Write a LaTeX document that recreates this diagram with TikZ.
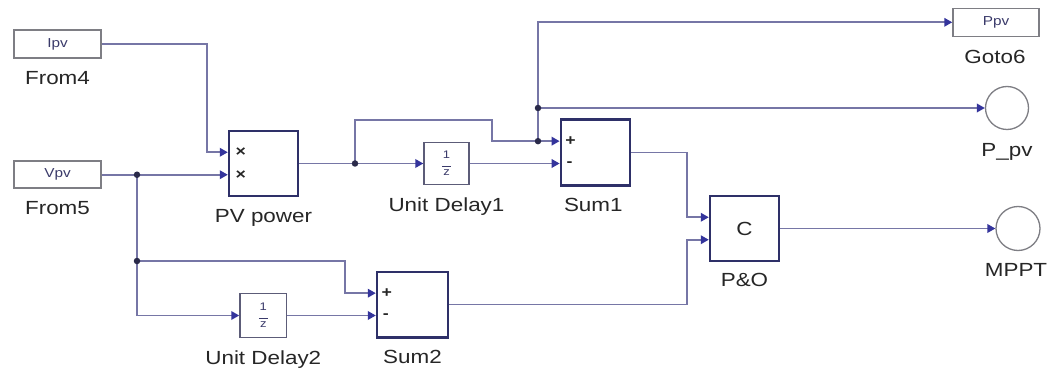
\documentclass[tikz,border=0pt]{standalone}
\usepackage{fontspec}
\setmainfont{Liberation Sans}[FakeStretch=1.18]
\usetikzlibrary{arrows.meta,calc}
\definecolor{wirec}{HTML}{7676A6}
\definecolor{tipc}{HTML}{34349C}
\definecolor{blkc}{HTML}{2E3068}
\definecolor{udc}{HTML}{5C5C78}
\definecolor{tagc}{HTML}{7E7E84}
\definecolor{smallc}{HTML}{3A3A6A}
\definecolor{txtc}{HTML}{262626}
\definecolor{dotc}{HTML}{2A2A4A}
\begin{document}
\begin{tikzpicture}[x=1pt,y=-1pt,
  wire/.style={draw=wirec, line width=1.8pt},
  arr/.style={wire, -{Triangle[length=8pt,width=8.5pt,color=tipc]}},
  blk/.style={draw=blkc, line width=2.4pt, fill=white, inner sep=0pt},
  udel/.style={draw=udc, line width=1.4pt, fill=white, inner sep=0pt},
  tag/.style={draw=tagc, line width=1.5pt, fill=white, inner sep=0pt, font=\fontsize{13}{13}\selectfont, text=smallc},
  term/.style={circle, draw=tagc, line width=1.3pt, fill=white, inner sep=0pt},
  lbl/.style={anchor=base, font=\fontsize{19}{19}\selectfont, text=txtc, inner sep=0pt},
  sgn/.style={font=\fontsize{15}{15}\selectfont\bfseries, text=txtc, inner sep=0pt},
  frac/.style={font=\fontsize{11}{11}\selectfont, text=smallc, align=center, inner sep=0pt},
  dot/.style={circle, fill=dotc, minimum size=6.5pt, inner sep=0pt}]
\useasboundingbox[fill=white] (0,0) rectangle (1051,374);

% blocks
\node[tag, minimum width=87pt, minimum height=28pt] (ipv) at (57.5,44) {Ipv};
\node[blk, minimum width=69pt, minimum height=65pt] (pv) at (263.5,163.5) {};
\coordinate (pv-i1) at ($(pv.north west)!1/3!(pv.south west)$);
\coordinate (pv-i2) at ($(pv.north west)!2/3!(pv.south west)$);
\node[tag, minimum width=87pt, minimum height=27pt] (vpv) at (57.5,0 |- pv-i2) {Vpv};
\node[udel, minimum width=45pt, minimum height=42pt] (ud1) at (446.5,163.5) {};
\node[blk, minimum width=69pt, minimum height=65.7pt] (sum1) at (595.3,152.5) {};
\node[udel, minimum width=46.7pt, minimum height=43.7pt] (ud2) at (263.3,315.5) {};
\node[blk, minimum width=71pt, minimum height=65.6pt] (sum2) at (412.5,304.5) {};
\node[blk, minimum width=69pt, minimum height=65pt] (po) at (744.5,228.5) {\fontsize{19}{19}\selectfont\color{txtc}C};
\node[tag, minimum width=86pt, minimum height=28pt] (goto) at (996,22.3) {Ppv};
\node[term, minimum size=43pt] (ppv) at (1007,108) {};
\node[term, minimum size=44pt] (mppt) at (1018,228.5) {};

% ports
\coordinate (s1-i1) at ($(sum1.north west)!1/3!(sum1.south west)$);
\coordinate (s1-i2) at ($(sum1.north west)!2/3!(sum1.south west)$);
\coordinate (s2-i1) at ($(sum2.north west)!1/3!(sum2.south west)$);
\coordinate (s2-i2) at ($(sum2.north west)!2/3!(sum2.south west)$);
\coordinate (po-i1) at ($(po.north west)!1/3!(po.south west)$);
\coordinate (po-i2) at ($(po.north west)!2/3!(po.south west)$);

% fraction and sign texts
\node[frac] (f1) at (ud1.center) {1\\[-3pt]\rule{9pt}{0.6pt}\\[-2pt]z};
\node[frac] (f2) at (ud2.center) {1\\[-3pt]\rule{9pt}{0.6pt}\\[-2pt]z};
\node[sgn] (x1) at ($(pv-i1)+(13,0)$) {×};
\node[sgn] (x2) at ($(pv-i2)+(13,0)$) {×};
\node[sgn] (p1) at ($(s1-i1)+(11,0)$) {+};
\node[sgn] (m1) at ($(s1-i2)+(10,0)$) {-};
\node[sgn] (p2) at ($(s2-i1)+(11,0)$) {+};
\node[sgn] (m2) at ($(s2-i2)+(10,0)$) {-};

% labels
\node[lbl] (ipvL) at ($(ipv.south)+(0,26)$) {From4};
\node[lbl] (vpvL) at ($(vpv.south)+(0,26)$) {From5};
\node[lbl] (pvL) at ($(pv.south)+(0,25)$) {PV power};
\node[lbl] (ud1L) at ($(ud1.south)+(0,26)$) {Unit Delay1};
\node[lbl] (sum1L) at ($(sum1.south)+(-2,25)$) {Sum1};
\node[lbl] (ud2L) at ($(ud2.south)+(0,26)$) {Unit Delay2};
\node[lbl] (sum2L) at ($(sum2.south)+(0,25)$) {Sum2};
\node[lbl] (poL) at ($(po.south)+(0,24)$) {P\&O};
\node[lbl] (gotoL) at ($(goto.south)+(-1,26)$) {Goto6};
\node[lbl] (ppvL) at ($(ppv.south)+(0,26)$) {P\_pv};
\node[lbl] (mpptL) at ($(mppt.south)+(-2,25)$) {MPPT};

% junctions
\coordinate (j1) at (137,0 |- pv-i2);
\coordinate (j2) at (137,261);
\coordinate (j3) at (355,0 |- pv.east);
\coordinate (j4) at (538,0 |- s1-i1);
\coordinate (j5) at (538,0 |- ppv.west);

% wires
\draw[arr] (ipv.east) -- ++(105,0) |- (pv-i1);
\draw[arr] (vpv.east) -- (pv-i2);
\draw[wire] (j1) -- (j2);
\draw[arr] (j2) -- (345,261) |- (s2-i1);
\draw[arr] (j2) |- (ud2.west);
\draw[arr] (ud2.east) -- (ud2.east -| sum2.west);
\draw[arr] (sum2.east) -- (687,0 |- sum2.east) |- (po-i2);
\draw[arr] (pv.east) -- (pv.east -| ud1.west);
\draw[arr] (j3) -- (355,120) -- (492,120) |- (s1-i1);
\draw[arr] (ud1.east) -- (ud1.east -| sum1.west);
\draw[arr] (j4) -- (538,0 |- goto.west) -- (goto.west);
\draw[arr] (j5) -- (ppv.west);
\draw[arr] (sum1.east) -- (687,0 |- sum1.east) |- (po-i1);
\draw[arr] (po.east) -- (po.east -| mppt.west);

\node[dot] (d1) at (j1) {};
\node[dot] (d2) at (j2) {};
\node[dot] (d3) at (j3) {};
\node[dot] (d4) at (j4) {};
\node[dot] (d5) at (j5) {};
\end{tikzpicture}
\end{document}
